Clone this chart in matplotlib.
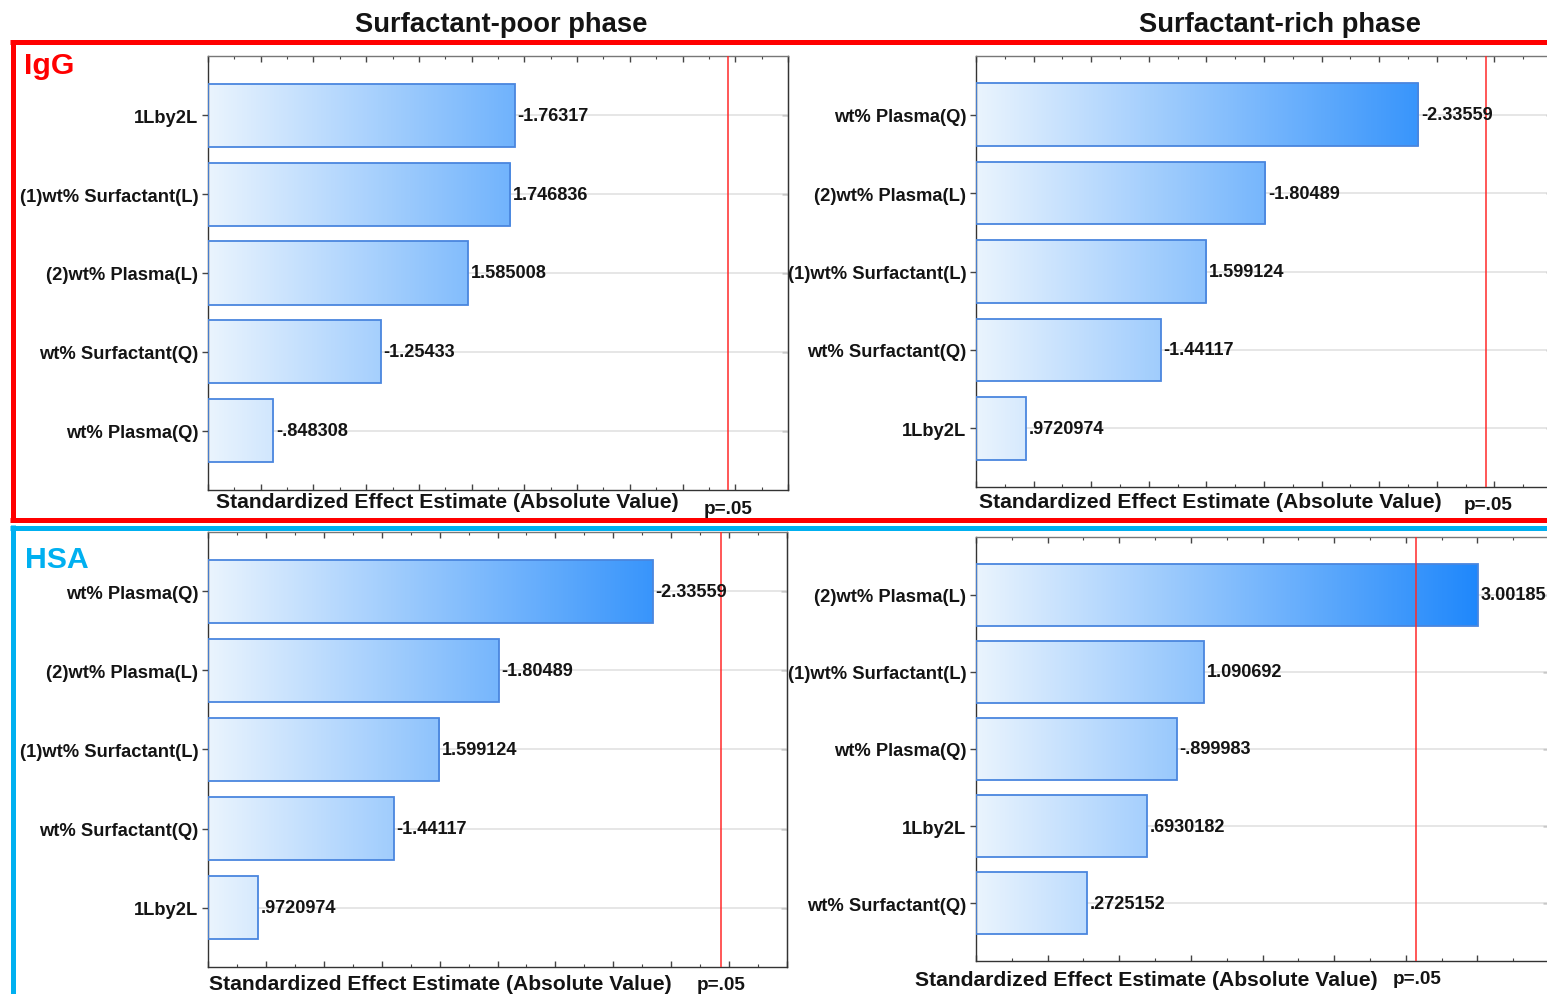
import numpy as np
import matplotlib
matplotlib.use("Agg")
import matplotlib.pyplot as plt
from matplotlib.colors import LinearSegmentedColormap
from matplotlib.ticker import MultipleLocator
from matplotlib.lines import Line2D

# ---------------------------------------------------------------- data
igg_poor_terms = ["1Lby2L", "(1)wt% Surfactant(L)", "(2)wt% Plasma(L)",
                  "wt% Surfactant(Q)", "wt% Plasma(Q)"]
igg_poor_effects = [-1.76317, 1.746836, 1.585008, -1.25433, -0.848308]

igg_rich_terms = ["wt% Plasma(Q)", "(2)wt% Plasma(L)", "(1)wt% Surfactant(L)",
                  "wt% Surfactant(Q)", "1Lby2L"]
igg_rich_effects = [-2.33559, -1.80489, 1.599124, -1.44117, 0.9720974]

hsa_poor_terms = ["wt% Plasma(Q)", "(2)wt% Plasma(L)", "(1)wt% Surfactant(L)",
                  "wt% Surfactant(Q)", "1Lby2L"]
hsa_poor_effects = [-2.33559, -1.80489, 1.599124, -1.44117, 0.9720974]

hsa_rich_terms = ["(2)wt% Plasma(L)", "(1)wt% Surfactant(L)", "wt% Plasma(Q)",
                  "1Lby2L", "wt% Surfactant(Q)"]
hsa_rich_effects = [3.00185, 1.090692, -0.899983, 0.6930182, 0.2725152]

t_crit = 2.570582          # two-sided p = .05, df = 5
column_titles = ["Surfactant-poor phase", "Surfactant-rich phase"]
row_titles = ["IgG", "HSA"]
x_title = "Standardized Effect Estimate (Absolute Value)"
p_label = "p=.05"

plt.rcParams["font.family"] = ["Liberation Sans", "DejaVu Sans"]

W, H = 1547, 995
fig = plt.figure(figsize=(W / 100, H / 100), dpi=100)
fig.patch.set_facecolor("white")

# full-figure overlay in pixel coordinates for frames and headings
ov = fig.add_axes([0, 0, 1, 1])
ov.set_xlim(0, W)
ov.set_ylim(H, 0)
ov.axis("off")
ov.patch.set_alpha(0)

RED = "#ff0000"
CYAN = "#00b0f0"
for (x0, y0, x1, y1, c) in [(10, 43, W, 43, RED), (12.5, 41, 12.5, 520.5, RED),
                            (10, 520.5, W, 520.5, RED),
                            (10, 528.5, W, 528.5, CYAN), (12.5, 526, 12.5, H, CYAN)]:
    ov.add_line(Line2D([x0, x1], [y0, y1], color=c, lw=3.6, solid_capstyle="butt"))

TXT = "#141414"
ov.text(501, 25, column_titles[0], ha="center", va="center",
        fontsize=19.7, fontweight="bold", color=TXT)
ov.text(1280, 25, column_titles[1], ha="center", va="center",
        fontsize=19.7, fontweight="bold", color=TXT)
ov.text(24, 66, row_titles[0], ha="left", va="center",
        fontsize=21.8, fontweight="bold", color=RED)
ov.text(25, 560, row_titles[1], ha="left", va="center",
        fontsize=21.8, fontweight="bold", color=CYAN)

cmap = LinearSegmentedColormap.from_list(
    "bar_grad", [(0.0, "#eaf4fe"), (0.88, "#1e87fb"), (1.0, "#1580f5")])


def fmt(v):
    s = f"{v:.7g}"
    if s.startswith("-0."):
        return "-" + s[2:]
    if s.startswith("0."):
        return s[1:]
    return s


def pareto(box, terms, effects, xlim, major, minor, xl_pos, p_pos):
    left, top, right, bottom = box
    ax = fig.add_axes([left / W, 1 - bottom / H, (right - left) / W, (bottom - top) / H])
    y = np.arange(len(terms))
    mags = np.abs(effects)
    # bars grow from the left end of the axis
    bars = ax.barh(y, mags - xlim[0], height=0.8, left=xlim[0], facecolor="none",
                   edgecolor="#4a86de", linewidth=1.3, zorder=3)
    grad = np.linspace(0, 1, 512).reshape(1, -1)
    for b in bars:
        im = ax.imshow(grad, cmap=cmap, aspect="auto", interpolation="bilinear",
                       extent=(xlim[0], xlim[1], 4.75, -0.75), zorder=2)
        im.set_clip_path(b)
    ax.axvline(t_crit, color="#ff2a2a", lw=1.1, zorder=4)
    for yi, m, e in zip(y, mags, effects):
        ax.annotate(fmt(e), xy=(m, yi), xytext=(2, 0), textcoords="offset points",
                    ha="left", va="center", fontsize=13.1, fontweight="bold",
                    color=TXT, zorder=5)
    ax.set_xlim(*xlim)
    ax.set_ylim(4.75, -0.75)
    ax.set_yticks(y)
    ax.set_yticklabels(terms, fontsize=13.2, fontweight="bold", color=TXT)
    ax.xaxis.set_major_locator(MultipleLocator(major))
    ax.xaxis.set_minor_locator(MultipleLocator(minor))
    ax.tick_params(axis="x", which="both", direction="in", top=True, bottom=True,
                   labelbottom=False, color="#444444")
    ax.tick_params(axis="x", which="major", length=4, width=1)
    ax.tick_params(axis="x", which="minor", length=2, width=0.8)
    ax.tick_params(axis="y", which="major", direction="out", length=4, width=1,
                   pad=3, color="#444444")
    # inward category ticks on the right edge
    sec = ax.secondary_yaxis("right")
    sec.set_yticks(y)
    sec.tick_params(direction="in", length=4, width=1, color="#444444",
                    labelright=False)
    sec.spines["right"].set_color("#333333")
    ax.grid(axis="y", color="#e2e2e2", lw=1.2, zorder=0)
    ax.set_axisbelow(True)
    for sp in ax.spines.values():
        sp.set_color("#333333")
        sp.set_linewidth(1.0)
    ax.spines["top"].set_color("#777777")
    ov.text(xl_pos[0], xl_pos[1], x_title, ha="left", va="center",
            fontsize=15.2, fontweight="bold", color=TXT)
    ov.text(p_pos[0], p_pos[1], p_label, ha="left", va="center",
            fontsize=13.6, fontweight="bold", color=TXT)
    return ax


pareto((208, 57, 788, 491), igg_poor_terms, igg_poor_effects, (0.6, 2.8), 0.2, 0.1,
       (216, 503), (704, 509))
pareto((976, 57, 1552, 488), igg_rich_terms, igg_rich_effects, (0.8, 2.8), 0.2, 0.1,
       (979, 503), (1464, 505))
pareto((208, 533, 787, 968), hsa_poor_terms, hsa_poor_effects, (0.8, 2.8), 0.2, 0.1,
       (209, 984), (697, 986))
pareto((976, 538, 1549, 962), hsa_rich_terms, hsa_rich_effects, (-0.5, 3.5), 0.5, 0.25,
       (915, 981), (1393, 980))

fig.savefig("out.png", dpi=100)
